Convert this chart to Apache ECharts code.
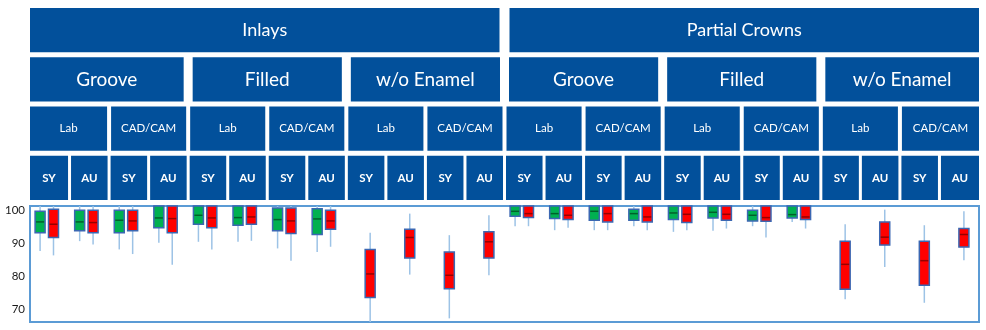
<!DOCTYPE html>
<html>
<head>
<meta charset="utf-8">
<script src="https://cdn.jsdelivr.net/npm/echarts@6/dist/echarts.min.js"></script>
<style>
  html, body { margin: 0; padding: 0; background: #fff; }
  #chart { width: 986px; height: 330px; }
</style>
</head>
<body>
<div id="chart"></div>
<script>
// header levels, outer to inner
const groups = ['Inlays', 'Partial Crowns'];
const preparations = ['Groove', 'Filled', 'w/o Enamel'];
const methods = ['Lab', 'CAD/CAM'];
const cements = ['SY', 'AU'];

const yTicks = [70, 80, 90, 100];

// [min, q1, median, q3, max] per column, null = no box
const boxGreen = [
  [87.7, 93.2, 96.5, 99.7, 101.3],
  [90.7, 93.8, 96.5, 100, 101.3],
  [88.2, 93.2, 97.0, 100, 101.3],
  [90.2, 94.7, 97.7, 101.3, 101.3],
  [90.5, 95.8, 98.5, 101.3, 101.3],
  [90.5, 95.5, 97.8, 101.3, 101.3],
  [88.5, 93.8, 97.2, 100.7, 101.3],
  [87.4, 92.7, 97.4, 100.5, 101.3],
  null, null, null, null,
  [95.2, 98.2, 99.7, 101.3, 101.3],
  [94.0, 97.5, 99.0, 101.3, 101.3],
  [94.0, 97.0, 99.7, 101.3, 101.3],
  [95.2, 97.0, 99.0, 100.3, 101.3],
  [93.5, 97.2, 99.2, 101.3, 101.3],
  [93.8, 97.7, 99.4, 101.3, 101.3],
  [95.2, 96.8, 98.5, 100, 101.3],
  [96.5, 97.7, 98.7, 101.3, 101.3],
  null, null, null, null
];

const boxRed = [
  [86.4, 91.8, 95.8, 100.3, 101.3],
  [89.7, 93.2, 96.3, 100, 101.3],
  [86.8, 93.8, 96.8, 100, 101.3],
  [83.6, 93.2, 97.5, 101.3, 101.3],
  [88.2, 94.7, 97.7, 101.3, 101.3],
  [90.8, 95.8, 98.0, 101.3, 101.3],
  [84.8, 93.0, 96.8, 100.7, 101.3],
  [89.0, 94.3, 96.8, 100, 101.3],
  [66.3, 73.7, 80.8, 88.2, 93.2],
  [80.6, 85.6, 91.8, 94.3, 99.0],
  [67.4, 76.3, 80.4, 87.4, 92.5],
  [80.4, 85.6, 90.5, 93.5, 98.5],
  [95.2, 97.8, 99.0, 101.3, 101.3],
  [94.7, 97.2, 98.5, 101.3, 101.3],
  [94.0, 96.5, 99.0, 101.3, 101.3],
  [94.0, 96.5, 98.0, 101.3, 101.3],
  [94.0, 96.3, 98.8, 101.3, 101.3],
  [94.5, 97.0, 98.8, 101.3, 101.3],
  [91.8, 96.7, 97.8, 101.3, 101.3],
  [94.5, 97.2, 98.0, 101.3, 101.3],
  [73.2, 76.2, 83.7, 90.7, 95.8],
  [82.9, 89.5, 91.9, 96.5, 100.2],
  [72.1, 77.4, 84.8, 90.7, 95.5],
  [84.9, 88.9, 92.7, 94.5, 99.7]
];

const categories = [];
groups.forEach(g => preparations.forEach(p => methods.forEach(m => cements.forEach(c => {
  categories.push([g, p, m, c].join(' / '));
}))));

// header cells [start, span, row] + label
const headerLevels = [groups, preparations, methods, cements];
const headerCells = [];
let count = 1;
headerLevels.forEach((labels, row) => {
  count *= labels.length;
  const span = categories.length / count;
  for (let i = 0; i < count; i++) {
    headerCells.push({ value: [i * span, span, row], name: labels[i % labels.length] });
  }
});

const headerGap = [10, 9, 4, 3];
const headerFont = [
  { size: 18, weight: 'normal' },
  { size: 19, weight: 'normal' },
  { size: 11.5, weight: 'normal' },
  { size: 11.5, weight: 'bold' }
];

const chart = echarts.init(document.getElementById('chart'));

function headerRender(params, api) {
  const start = api.value(0);
  const span = api.value(1);
  const row = api.value(2);
  const band = api.size([1, 0])[0];
  const rowH = api.size([0, 1])[1];
  const p = api.coord([start, row]);
  const g = headerGap[row] / 2;
  let x0 = p[0] - band / 2;
  let x1 = x0 + span * band;
  if (start > 0) x0 += g;
  if (start + span < categories.length) x1 -= g;
  const h = rowH - 5;
  const f = headerFont[row];
  return {
    type: 'group',
    children: [
      { type: 'rect', shape: { x: x0, y: p[1], width: x1 - x0, height: h }, style: { fill: '#02509b' } },
      {
        type: 'text',
        style: {
          text: headerCells[params.dataIndex].name,
          x: (x0 + x1) / 2, y: p[1] + h / 2,
          align: 'center', verticalAlign: 'middle',
          fill: '#fff', fontSize: f.size, fontWeight: f.weight, fontFamily: 'Lato'
        }
      }
    ]
  };
}

function boxRender(list, offset, fill, medianColor) {
  return function (params, api) {
    const i = api.value(0);
    const lo = api.coord([i, api.value(1)]);
    const q1 = api.coord([i, api.value(2)]);
    const md = api.coord([i, api.value(3)]);
    const q3 = api.coord([i, api.value(4)]);
    const hi = api.coord([i, api.value(5)]);
    const x = lo[0] + offset;
    const w = 10;
    return {
      type: 'group',
      children: [
        { type: 'line', shape: { x1: x, y1: hi[1], x2: x, y2: lo[1] }, style: { stroke: '#9dc3e6', lineWidth: 1.5 } },
        { type: 'rect', shape: { x: x - w / 2, y: q3[1], width: w, height: q1[1] - q3[1] },
          style: { fill: fill, stroke: '#3b67b2', lineWidth: 1.5 } },
        { type: 'line', shape: { x1: x - w / 2 + 1, y1: md[1], x2: x + w / 2 - 1, y2: md[1] },
          style: { stroke: medianColor, lineWidth: 1.5 } }
      ]
    };
  };
}

function boxData(list) {
  const out = [];
  list.forEach((b, i) => { if (b) out.push([i].concat(b)); });
  return out;
}

const yRange = { min: 66.3, max: 101.3 };

chart.setOption({
  animation: false,
  grid: [
    { left: 30, right: 7, top: 206, bottom: 8, show: true, borderColor: '#5b9bd5', borderWidth: 2, backgroundColor: '#fff' },
    { left: 27, right: 9, top: 206, bottom: 8 },
    { left: 30, right: 7, top: 8, bottom: 125 }
  ],
  xAxis: [
    { gridIndex: 0, type: 'category', data: categories, show: false },
    { gridIndex: 1, type: 'category', data: categories, show: false },
    { gridIndex: 2, type: 'category', data: categories, show: false }
  ],
  yAxis: [
    {
      gridIndex: 0, type: 'value', min: yRange.min, max: yRange.max,
      axisLine: { show: false }, axisTick: { show: false }, splitLine: { show: false },
      axisLabel: { customValues: yTicks, color: '#1a1a1a', fontSize: 11.5, fontFamily: 'Lato', margin: 5 }
    },
    { gridIndex: 1, type: 'value', min: yRange.min, max: yRange.max, show: false, splitLine: { show: false } },
    { gridIndex: 2, type: 'value', min: 0, max: 4, inverse: true, show: false, splitLine: { show: false } }
  ],
  series: [
    {
      type: 'custom', xAxisIndex: 2, yAxisIndex: 2,
      data: headerCells, encode: { x: 0, y: 2 },
      renderItem: headerRender
    },
    {
      type: 'custom', xAxisIndex: 1, yAxisIndex: 1,
      data: boxData(boxGreen), encode: { x: 0, y: [1, 2, 3, 4, 5] },
      renderItem: boxRender(boxGreen, -6.7, '#00b050', '#00602a')
    },
    {
      type: 'custom', xAxisIndex: 1, yAxisIndex: 1,
      data: boxData(boxRed), encode: { x: 0, y: [1, 2, 3, 4, 5] },
      renderItem: boxRender(boxRed, 6.7, '#ff0000', '#960000')
    }
  ]
});
</script>
</body>
</html>
